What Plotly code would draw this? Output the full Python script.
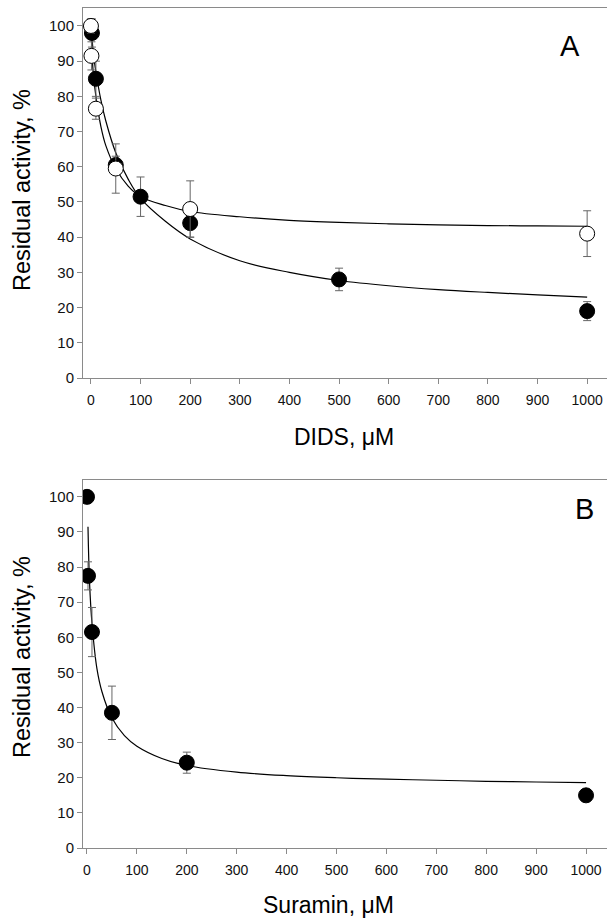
import plotly.graph_objects as go

# ---------------- Panel A: DIDS ----------------
dids_filled_x = [2, 10, 50, 100, 200, 500, 1000]
dids_filled_y = [98, 85, 60.5, 51.5, 44, 28, 19]
dids_filled_err = [4, 5, 2.5, 5.6, 4, 3.2, 2.7]

dids_open_x = [0, 1, 10, 50, 200, 1000]
dids_open_y = [100, 91.5, 76.5, 59.5, 48, 41]
dids_open_err = [2, 4, 3, 7, 8, 6.5]

fit_filled_x = [2, 5, 10, 20, 30, 50, 75, 100, 150, 200, 300, 400, 500, 600, 700, 800, 900, 1000]
fit_filled_y = [97, 92, 87, 79, 73, 64, 56.5, 51, 44.5, 39.5, 33.3, 30, 27.7, 26.2, 25.1, 24.3, 23.6, 23.0]

fit_open_x = [0, 2, 5, 10, 20, 30, 50, 75, 100, 150, 200, 300, 400, 500, 600, 700, 800, 900, 1000]
fit_open_y = [100, 93, 86, 80, 71.5, 66, 59.5, 54.5, 51.5, 49, 47.3, 45.8, 44.8, 44.2, 43.8, 43.5, 43.3, 43.2, 43.1]

# ---------------- Panel B: Suramin ----------------
sur_x = [0, 2, 10, 50, 200, 1000]
sur_y = [100, 77.5, 61.5, 38.5, 24.3, 15]
sur_err = [0, 4, 7, 7.6, 3, 0]

fit_sur_x = [2, 5, 10, 20, 30, 50, 75, 100, 150, 200, 300, 400, 500, 600, 700, 800, 900, 1000]
fit_sur_y = [91.5, 76, 64, 51, 44.5, 37, 32, 29, 25.5, 23.5, 21.6, 20.6, 20, 19.6, 19.3, 19, 18.8, 18.6]

x_ticks = [0, 100, 200, 300, 400, 500, 600, 700, 800, 900, 1000]
y_ticks = [0, 10, 20, 30, 40, 50, 60, 70, 80, 90, 100]

W, H = 607, 921
FONT = "Arial, Liberation Sans, sans-serif"
AXC = "#8a8a8a"
ERRC = "#666666"
MS = 15

fig = go.Figure()

# Panel A curves
fig.add_trace(go.Scatter(x=fit_filled_x, y=fit_filled_y, mode="lines", line=dict(color="black", width=1.2, shape="spline"),
                         xaxis="x", yaxis="y", hoverinfo="skip"))
fig.add_trace(go.Scatter(x=fit_open_x, y=fit_open_y, mode="lines", line=dict(color="black", width=1.2, shape="spline"),
                         xaxis="x", yaxis="y", hoverinfo="skip"))
fig.add_trace(go.Scatter(x=dids_filled_x, y=dids_filled_y, mode="markers",
                         marker=dict(color="black", size=MS, line=dict(color="black", width=1)),
                         error_y=dict(type="data", array=dids_filled_err, color=ERRC, thickness=1, width=4),
                         xaxis="x", yaxis="y"))
fig.add_trace(go.Scatter(x=dids_open_x, y=dids_open_y, mode="markers",
                         marker=dict(color="white", size=MS, line=dict(color="black", width=1)),
                         error_y=dict(type="data", array=dids_open_err, color=ERRC, thickness=1, width=4),
                         xaxis="x", yaxis="y"))

# Panel B
fig.add_trace(go.Scatter(x=fit_sur_x, y=fit_sur_y, mode="lines", line=dict(color="black", width=1.2, shape="spline"),
                         xaxis="x2", yaxis="y2", hoverinfo="skip"))
fig.add_trace(go.Scatter(x=sur_x, y=sur_y, mode="markers",
                         marker=dict(color="black", size=MS, line=dict(color="black", width=1)),
                         error_y=dict(type="data", array=sur_err, color=ERRC, thickness=1, width=4),
                         xaxis="x2", yaxis="y2"))

def px_x(p):
    return p / W

def px_y(p):
    return 1 - p / H

xdom = [px_x(83), 1.0]
common_x = dict(showgrid=False, zeroline=False, showline=True, linecolor=AXC, linewidth=1,
                ticks="outside", ticklen=5, tickcolor=AXC, tickwidth=1, automargin=False,
                ticklabelstandoff=4,
                tickvals=x_ticks, tickfont=dict(family=FONT, size=14, color="#111111"),
                mirror=True)
common_y = dict(showgrid=False, zeroline=False, showline=True, linecolor=AXC, linewidth=1,
                ticks="outside", ticklen=5, tickcolor=AXC, tickwidth=1, automargin=False,
                tickvals=y_ticks, tickfont=dict(family=FONT, size=15, color="#111111"))

fig.update_layout(
    width=W, height=H, margin=dict(l=0, r=0, t=0, b=0, autoexpand=False),
    paper_bgcolor="white", plot_bgcolor="white", showlegend=False,
    xaxis=dict(domain=xdom, range=[-16, 1040], anchor="y", **common_x),
    yaxis=dict(domain=[px_y(378), px_y(8)], range=[0, 105.1], anchor="x", **common_y),
    xaxis2=dict(domain=xdom, range=[-8, 1042], anchor="y2", **common_x),
    yaxis2=dict(domain=[px_y(848), px_y(480)], range=[0, 104.8], anchor="x2", **common_y),
)

ann = []
def add_text(text, x, y, size, angle=0):
    ann.append(dict(text=text, x=px_x(x), y=px_y(y), xref="paper", yref="paper",
                    showarrow=False, textangle=angle, xanchor="center", yanchor="middle",
                    font=dict(family=FONT, size=size, color="black")))

add_text("Residual activity, %", 22, 190, 23.5, -90)
add_text("Residual activity, %", 22, 657, 23.5, -90)
add_text("DIDS, μM", 344, 437, 23)
add_text("Suramin, μM", 328, 905, 23)
add_text("A", 570, 46, 29)
add_text("B", 584, 509, 29)
fig.update_layout(annotations=ann)

fig.write_html("out.html", config={"displayModeBar": False},
               post_script="document.body.style.margin='0';document.body.style.overflow='hidden';")
